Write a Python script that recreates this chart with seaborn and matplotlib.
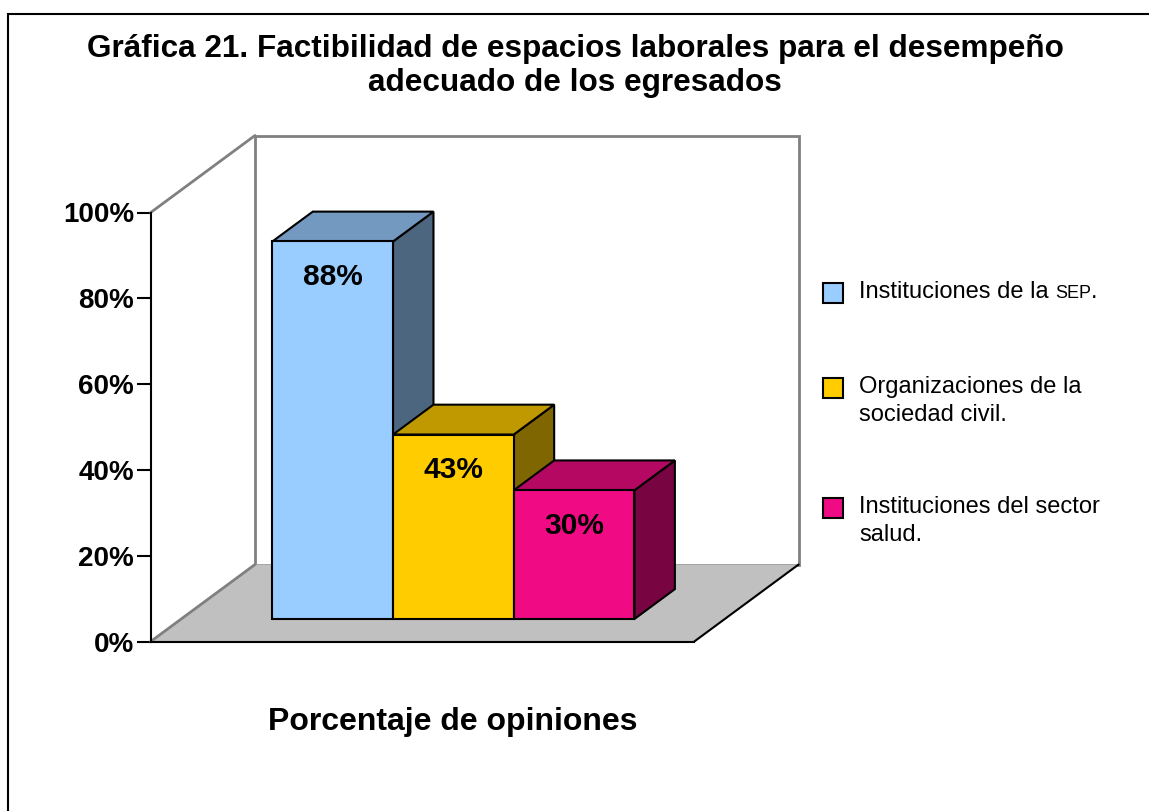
import matplotlib
matplotlib.use("Agg")
import matplotlib.pyplot as plt
import matplotlib.transforms as mtransforms
from matplotlib.patches import Polygon, Rectangle
from matplotlib.lines import Line2D
import pandas as pd
import seaborn as sns

# datos de la grafica
categorias = ["Instituciones de la SEP.",
              "Organizaciones de la\nsociedad civil.",
              "Instituciones del sector\nsalud."]
porcentajes = [88, 43, 30]
etiquetas = ["88%", "43%", "30%"]
ticks_y = [0, 20, 40, 60, 80, 100]
ticks_txt = ["0%", "20%", "40%", "60%", "80%", "100%"]
titulo = "Gráfica 21. Factibilidad de espacios laborales para el desempeño\nadecuado de los egresados"
titulo_x = "Porcentaje de opiniones"

# colores: cara frontal, tapa y costado de cada barra
col_frente = ["#99CCFF", "#FFCC00", "#F00A84"]
col_tapa = ["#7399C0", "#C09900", "#B40863"]
col_lado = ["#4D6680", "#806600", "#780542"]

W, H = 1149, 811
sns.set_theme(style="white")
plt.rcParams["font.family"] = ["Liberation Sans", "DejaVu Sans"]
plt.rcParams["text.color"] = "black"

fig = plt.figure(figsize=(W / 100, H / 100), dpi=100)
ax = fig.add_axes([0, 0, 1, 1])
ax.patch.set_alpha(0)

df = pd.DataFrame({"categoria": categorias, "valor": porcentajes})
sns.barplot(data=df, x="categoria", y="valor", hue="categoria",
            palette=col_frente, width=1, dodge=False, saturation=1,
            legend=False, errorbar=None, edgecolor="black", linewidth=1.5, ax=ax)
barras = list(ax.patches)

# escala: pixeles de la imagen -> datos (plano frontal del piso)
X0, UX = 302.2, 120.7      # px del centro de la 1a barra, px por categoria
Y0, UY = 641.5, 4.29       # px del 0 %, px por punto porcentual
dx, dy = 104.3 / UX, 77 / UY   # profundidad total del "cuarto"
FR, BK = 0.292, 0.68           # profundidad donde empiezan / terminan las barras
x_eje = (150.7 - X0) / UX
x_der = (694.3 - X0) / UX
ax.set_xlim(-X0 / UX, (W - X0) / UX)
ax.set_ylim((Y0 - H) / UY, Y0 / UY)

gris = "#808080"
# pared del fondo
ax.add_patch(Rectangle((x_eje + dx, dy), x_der - x_eje, 100, fc="white",
                       ec=gris, lw=2, zorder=0.5))
# piso
ax.add_patch(Polygon([(x_eje, 0), (x_der, 0), (x_der + dx, dy), (x_eje + dx, dy)],
                     closed=True, fc="#C0C0C0", ec="none", zorder=1))
ax.add_line(Line2D([x_eje, x_eje + dx], [0, dy], color=gris, lw=2, zorder=1.5))
ax.add_line(Line2D([x_eje, x_eje + dx], [100, 100 + dy], color=gris, lw=2, zorder=1.5))
ax.add_line(Line2D([x_der, x_der + dx], [0, dy], color="black", lw=1.5, zorder=1.5))

# barras en 3D: se corre la cara frontal de seaborn hacia el fondo y se agregan tapa y costado
t_bar = mtransforms.Affine2D().translate(FR * dx, FR * dy) + ax.transData
bx, by = (BK - FR) * dx, (BK - FR) * dy
for p in barras:
    i = int(round(p.get_x() + p.get_width() / 2))
    v = p.get_height()
    x0, x1 = p.get_x(), p.get_x() + p.get_width()
    p.set_transform(t_bar)
    p.set_zorder(5 + 3 * i + 2)
    ax.add_patch(Polygon([(x1, 0), (x1, v), (x1 + bx, v + by), (x1 + bx, by)], closed=True,
                         fc=col_lado[i], ec="black", lw=1.5, transform=t_bar, zorder=5 + 3 * i))
    ax.add_patch(Polygon([(x0, v), (x1, v), (x1 + bx, v + by), (x0 + bx, v + by)], closed=True,
                         fc=col_tapa[i], ec="black", lw=1.5, transform=t_bar, zorder=5 + 3 * i + 1))
    ax.text(i, v - 8.3, etiquetas[i], transform=t_bar, ha="center", va="center",
            fontsize=21.5, fontweight="bold", color="black", zorder=30)

# ejes
for s in ["top", "right"]:
    ax.spines[s].set_visible(False)
ax.spines["left"].set_position(("data", x_eje))
ax.spines["left"].set_bounds(0, 100)
ax.spines["bottom"].set_position(("data", 0))
ax.spines["bottom"].set_bounds(x_eje, x_der)
for s in ["left", "bottom"]:
    ax.spines[s].set_color("black")
    ax.spines[s].set_linewidth(1.5)
    ax.spines[s].set_zorder(4)
ax.set_yticks(ticks_y, ticks_txt)
ax.set_xticks([])
ax.tick_params(axis="y", direction="out", length=10, width=1.5, pad=2,
               labelsize=20, colors="black", left=True)
for t in ax.get_yticklabels():
    t.set_fontweight("bold")
ax.set_xlabel("")
ax.set_ylabel("")

# textos
fig.text(575 / W, 1 - 66 / H, titulo, ha="center", va="center", fontsize=22.7,
         fontweight="bold", linespacing=1.2)
fig.text(453 / W, 1 - 730 / H, titulo_x, ha="center", va="baseline", fontsize=23,
         fontweight="bold")

# leyenda (cuadro alineado con el primer renglon)
renderer = fig.canvas.get_renderer()
base_leg = [298, 393, 513]
renglon = 28
for i, cat in enumerate(categorias):
    yb = base_leg[i]
    n = cat.count("\n")
    fig.add_artist(Rectangle((823 / W, 1 - (yb + 5) / H), 20 / W, 20 / H,
                             transform=fig.transFigure, fc=col_frente[i], ec="black", lw=1.5))
    cabeza, cola = cat.rsplit(" ", 1)
    if n == 0 and cola.rstrip(".").isupper():
        # sigla en versalitas, como en el original; el punto queda de tamano normal
        t = fig.text(859 / W, 1 - yb / H, cabeza, ha="left", va="baseline", fontsize=17)
        bb = t.get_window_extent(renderer=renderer)
        sigla = cola.rstrip(".")
        t2 = fig.text((bb.x1 + 6.5) / W, 1 - yb / H, sigla, ha="left", va="baseline", fontsize=13)
        bb2 = t2.get_window_extent(renderer=renderer)
        fig.text(bb2.x1 / W, 1 - yb / H, cola[len(sigla):], ha="left", va="baseline", fontsize=17)
    else:
        fig.text(859 / W, 1 - (yb + renglon * n) / H, cat, ha="left", va="baseline",
                 fontsize=17, linespacing=1.34)

# marco de la figura
fig.add_artist(Rectangle((8 / W, -0.05), 1.2, 1.05 - 14 / H, transform=fig.transFigure,
                         fill=False, ec="black", lw=1.5))

fig.savefig("out.png", dpi=100)
